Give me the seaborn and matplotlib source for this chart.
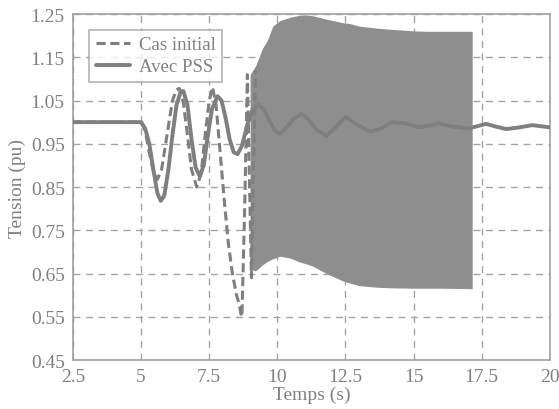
import matplotlib
matplotlib.use("Agg")
import matplotlib.pyplot as plt
import seaborn as sns
import pandas as pd

# Réponse en tension (pu)
t_pss = [2.5, 5.0, 5.15, 5.3, 5.45, 5.6, 5.72, 5.85, 6.0, 6.15, 6.3, 6.45, 6.55, 6.7, 6.85, 7.0, 7.15,
         7.3, 7.45, 7.6, 7.8, 7.95, 8.1, 8.25, 8.4, 8.54, 8.7, 8.9, 9.1, 9.3, 9.5, 9.7, 9.9, 10.08,
         10.3, 10.6, 10.9, 11.15, 11.45, 11.8, 12.1, 12.5, 12.9, 13.4, 13.8, 14.2, 14.7, 15.2, 15.6,
         15.9, 16.4, 17.0, 17.66, 18.0, 18.4, 18.9, 19.35, 20.0]
v_pss = [1.0, 1.0, 0.985, 0.95, 0.89, 0.835, 0.818, 0.83, 0.89, 0.97, 1.04, 1.07, 1.072, 1.04, 0.96,
         0.895, 0.875, 0.9, 0.97, 1.03, 1.06, 1.05, 1.01, 0.96, 0.93, 0.926, 0.945, 0.995, 1.03, 1.04,
         1.03, 1.005, 0.98, 0.973, 0.985, 1.008, 1.019, 1.005, 0.982, 0.968, 0.985, 1.012, 0.995, 0.978,
         0.985, 1.0, 0.997, 0.988, 0.992, 0.997, 0.99, 0.985, 0.996, 0.99, 0.984, 0.988, 0.993, 0.988]

t_init = [2.5, 5.0, 5.15, 5.3, 5.45, 5.6, 5.75, 5.95, 6.15, 6.3, 6.4, 6.55, 6.7, 6.85, 7.04, 7.2,
          7.35, 7.5, 7.62, 7.75, 7.9, 8.05, 8.2, 8.35, 8.5, 8.6, 8.65, 8.7, 8.8, 8.9, 8.98, 9.05,
          9.12, 9.2]
v_init = [1.0, 1.0, 0.98, 0.93, 0.885, 0.868, 0.89, 0.97, 1.05, 1.075, 1.078, 1.045, 0.97, 0.89,
          0.85, 0.88, 0.97, 1.05, 1.081, 1.04, 0.93, 0.82, 0.72, 0.65, 0.6, 0.58, 0.56, 0.55, 0.8,
          1.11, 0.85, 0.64, 0.9, 1.12]

# enveloppe de l'oscillation rapide (cas initial)
t_band = [9.0, 9.2, 9.45, 9.64, 9.83, 10.1, 10.5, 10.8, 11.07, 11.3, 11.8, 12.4, 12.65, 13.0, 13.7,
          14.1, 15.0, 15.5, 16.0, 17.05, 17.15]
v_upper = [1.11, 1.13, 1.17, 1.19, 1.222, 1.235, 1.243, 1.247, 1.248, 1.246, 1.238, 1.23, 1.228,
           1.222, 1.217, 1.215, 1.211, 1.21, 1.21, 1.21, 1.21]
v_lower = [0.66, 0.656, 0.67, 0.678, 0.684, 0.69, 0.685, 0.677, 0.672, 0.667, 0.65, 0.633, 0.628,
           0.622, 0.618, 0.617, 0.616, 0.616, 0.616, 0.615, 0.615]

x_ticks = [2.5, 5, 7.5, 10, 12.5, 15, 17.5, 20]
x_labels = ["2.5", "5", "7.5", "10", "12.5", "15", "17.5", "20"]
y_ticks = [0.45, 0.55, 0.65, 0.75, 0.85, 0.95, 1.05, 1.15, 1.25]

sns.set_style("white")
plt.rcParams["font.family"] = ["Liberation Serif", "DejaVu Serif"]

grey_txt = "#808080"
grey_line = "#7f7f7f"
grey_fill = "#8e8e8e"

fig = plt.figure(figsize=(5.59, 4.10), dpi=100)
ax = fig.add_axes([0.1306, 0.1195, 0.8530, 0.8439])

df_pss = pd.DataFrame({"t": t_pss, "v": v_pss})
df_init = pd.DataFrame({"t": t_init, "v": v_init})

ax.fill_between(t_band, v_lower, v_upper, color=grey_fill, lw=0, zorder=2)
sns.lineplot(data=df_init, x="t", y="v", ax=ax, color=grey_line, lw=2.2,
             linestyle=(0, (3, 1.5)), label="Cas initial", sort=False, zorder=3)
sns.lineplot(data=df_pss, x="t", y="v", ax=ax, color=grey_line, lw=2.8,
             label="Avec PSS", sort=False, zorder=4)

ax.set_xlim(2.5, 20)
ax.set_ylim(0.45, 1.25)
ax.set_xticks(x_ticks)
ax.set_xticklabels(x_labels)
ax.set_yticks(y_ticks)
ax.set_yticklabels([f"{v:.2f}" for v in y_ticks])
ax.grid(True, color="#a5a5a5", linestyle=(0, (5, 4)), lw=1.0, zorder=0)
ax.set_axisbelow(True)

ax.tick_params(colors=grey_txt, labelsize=14, length=0)
ax.tick_params(axis="x", pad=6)
ax.tick_params(axis="y", pad=6)
for sp in ax.spines.values():
    sp.set_color("#a0a0a0")
    sp.set_linewidth(1.2)

ax.set_xlabel("Temps (s)", color=grey_txt, fontsize=14, labelpad=0)
ax.set_ylabel("Tension (pu)", color=grey_txt, fontsize=14, labelpad=3)

leg = ax.legend(loc="upper left", bbox_to_anchor=(0.034, 0.955), fontsize=13.5, frameon=True,
                fancybox=False, handlelength=1.8, borderpad=0.35, labelspacing=0.25,
                handletextpad=0.5, borderaxespad=0)
leg.get_frame().set_edgecolor("#a0a0a0")
leg.get_frame().set_linewidth(1.2)
for txt in leg.get_texts():
    txt.set_color(grey_txt)

fig.savefig("out.png", dpi=100)
